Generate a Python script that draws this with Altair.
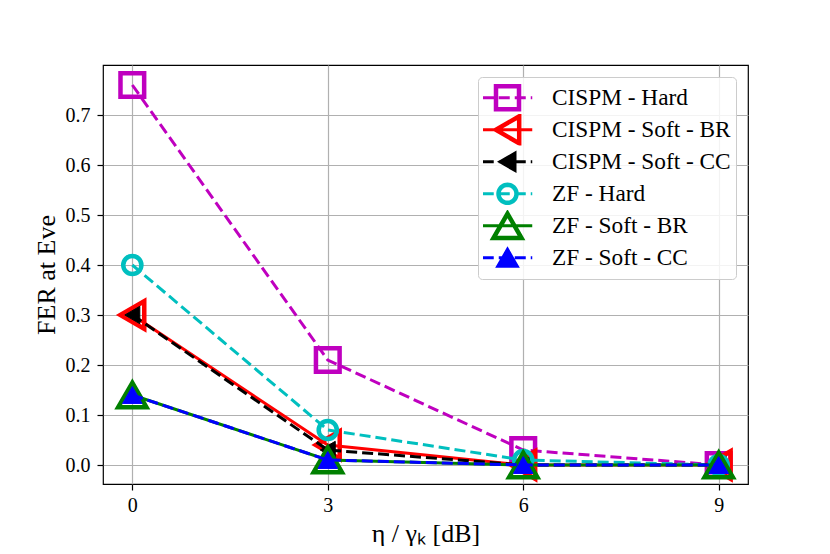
import math
import altair as alt
import pandas as pd

# ---------------- data ----------------
snr_db = [0, 3, 6, 9]
series_names = [
    "CISPM - Hard",
    "CISPM - Soft - BR",
    "CISPM - Soft - CC",
    "ZF - Hard",
    "ZF - Soft - BR",
    "ZF - Soft - CC",
]
cispm_hard = [0.76, 0.21, 0.03, 0.0]
cispm_soft_br = [0.30, 0.04, 0.0, 0.0]
cispm_soft_cc = [0.30, 0.03, 0.0, 0.0]
zf_hard = [0.40, 0.07, 0.01, 0.0]
zf_soft_br = [0.14, 0.01, 0.0, 0.0]
zf_soft_cc = [0.14, 0.01, 0.0, 0.0]
y_ticks = [0.0, 0.1, 0.2, 0.3, 0.4, 0.5, 0.6, 0.7]
x_ticks = [0, 3, 6, 9]

values = [cispm_hard, cispm_soft_br, cispm_soft_cc, zf_hard, zf_soft_br, zf_soft_cc]
rows = []
for name, vals in zip(series_names, values):
    for x, y in zip(snr_db, vals):
        rows.append({"series": name, "x": x, "y": y})
df = pd.DataFrame(rows)

# ---------------- styles ----------------
colors = ["#bf00bf", "#ff0000", "#000000", "#00bfbf", "#008000", "#0000ff"]
dashed = [True, False, True, True, False, True]
shapes = ["square", "triangle-left", "triangle-left", "circle", "triangle-up", "triangle-up"]
sizes = [560, 760, 300, 330, 800, 380]
filled = [False, False, True, False, False, True]
edge_w = [4.5, 4.5, 1, 4.5, 4.5, 1]

# ---------------- legend symbol paths (line + marker) ----------------
U = 15.0  # px per unit for legend symbolSize 900


def f(v):
    return f"{v / U:.3f}"


def poly(pts):
    return "M" + "L".join(f"{f(x)},{f(y)}" for x, y in pts) + "Z"


def rings(pts, cx, cy, inr, d=0.75):
    out = ""
    for s in (1 - d / inr, 1 + d / inr):
        out += poly([(cx + (x - cx) * s, cy + (y - cy) * s) for x, y in pts])
    return out


def circ(r, n=40):
    return poly([(r * math.cos(2 * math.pi * i / n), r * math.sin(2 * math.pi * i / n)) for i in range(n)])


solid_line = f"M{f(-24.75)},0H{f(24.75)}"
dash_line = "".join(f"M{f(a)},0H{f(b)}" for a, b in [(-24.75, -13.75), (-8.75, 2.25), (7.25, 18.25), (23.25, 24.75)])
bounds = "M0,-0.9M0,0.9"

sq = 11.5
square_p = poly([(-sq + 0.75, -sq + 0.75), (sq - 0.75, -sq + 0.75), (sq - 0.75, sq - 0.75), (-sq + 0.75, sq - 0.75)]) + \
    poly([(-sq - 0.75, -sq - 0.75), (sq + 0.75, -sq - 0.75), (sq + 0.75, sq + 0.75), (-sq - 0.75, sq + 0.75)])
r1 = 13.5
h1 = r1 * math.sqrt(3) / 2
tri_left_big = rings([(-h1, 0), (h1, -r1), (h1, r1)], h1 / 3, 0, r1 / math.sqrt(3))
r2 = 8.66
h2 = r2 * math.sqrt(3) / 2
tri_left_small = poly([(-h2, 0), (h2, -r2), (h2, r2)])
circle_p = circ(8.25) + circ(9.75)
r3 = 14.0
h3 = r3 * math.sqrt(3) / 2
tri_up_big = rings([(0, -h3), (r3, h3), (-r3, h3)], 0, h3 / 3, r3 / math.sqrt(3))
r4 = 9.75
h4 = r4 * math.sqrt(3) / 2
tri_up_small = poly([(0, -h4), (r4, h4), (-r4, h4)])

markers = [square_p, tri_left_big, tri_left_small, circle_p, tri_up_big, tri_up_small]
legend_paths = [bounds + (dash_line if d else solid_line) + m for d, m in zip(dashed, markers)]
legend_fills = [c if fl else "transparent" for c, fl in zip(colors, filled)]

# ---------------- encodings ----------------
X = alt.X(
    "x:Q",
    scale=alt.Scale(domain=[-0.45, 9.45], nice=False, zero=False),
    axis=alt.Axis(values=x_ticks, title="η / γₖ [dB]", labelPadding=5, titlePadding=5, format="d"),
)
Y = alt.Y(
    "y:Q",
    scale=alt.Scale(domain=[-0.038, 0.8], nice=False, zero=False),
    axis=alt.Axis(values=y_ticks, title="FER at Eve", format=".1f", labelPadding=7, titlePadding=6),
)

layers = []
for i, name in enumerate(series_names):
    sub = df[df.series == name]
    lk = dict(color=colors[i], strokeWidth=3)
    if dashed[i]:
        lk["strokeDash"] = [11, 5]
    layers.append(alt.Chart(sub).mark_line(**lk).encode(x=X, y=Y))
    pk = dict(shape=shapes[i], size=sizes[i], filled=filled[i], color=colors[i],
              strokeWidth=edge_w[i], opacity=1)
    if filled[i]:
        pk["stroke"] = colors[i]
    layers.append(alt.Chart(sub).mark_point(**pk).encode(x=X, y=Y))

leg = alt.Legend(title=None, orient="top-right", offset=12, clipHeight=31.6)
legend_layer = (
    alt.Chart(df)
    .transform_filter("datum.x < -100")
    .mark_point(size=900, opacity=1, strokeWidth=3)
    .encode(
        x=X,
        y=Y,
        shape=alt.Shape("series:N", scale=alt.Scale(domain=series_names, range=legend_paths), legend=leg),
        stroke=alt.Stroke("series:N", scale=alt.Scale(domain=series_names, range=colors), legend=leg),
        fill=alt.Fill("series:N", scale=alt.Scale(domain=series_names, range=legend_fills), legend=leg),
    )
)
layers.append(legend_layer)

FONT = "Liberation Serif"

chart = (
    alt.layer(*layers)
    .properties(
        width=645,
        height=419,
        autosize=alt.AutoSizeParams(type="none"),
        padding={"left": 95, "top": 57, "right": 70, "bottom": 62},
        background="white",
    )
    .configure_view(stroke="black", strokeWidth=1.2)
    .configure_axis(
        labelFont=FONT,
        labelFontSize=20,
        labelColor="black",
        titleFont=FONT,
        titleFontSize=26,
        titleFontWeight="normal",
        titleColor="black",
        tickColor="black",
        tickSize=6,
        tickWidth=1.2,
        domain=False,
        grid=True,
        gridColor="#b0b0b0",
        gridWidth=1.2,
    )
    .configure_legend(
        labelFont=FONT,
        labelFontSize=23.3,
        labelColor="black",
        labelLimit=400,
        padding=5,
        rowPadding=0,
        strokeColor="#cccccc",
        cornerRadius=4,
        fillColor="rgba(255,255,255,0.85)",
        symbolSize=900,
        symbolStrokeWidth=3,
        symbolOffset=8,
        labelOffset=28,
        symbolOpacity=1,
    )
)

chart.save("out.html", embed_options={"renderer": "svg", "actions": False})
